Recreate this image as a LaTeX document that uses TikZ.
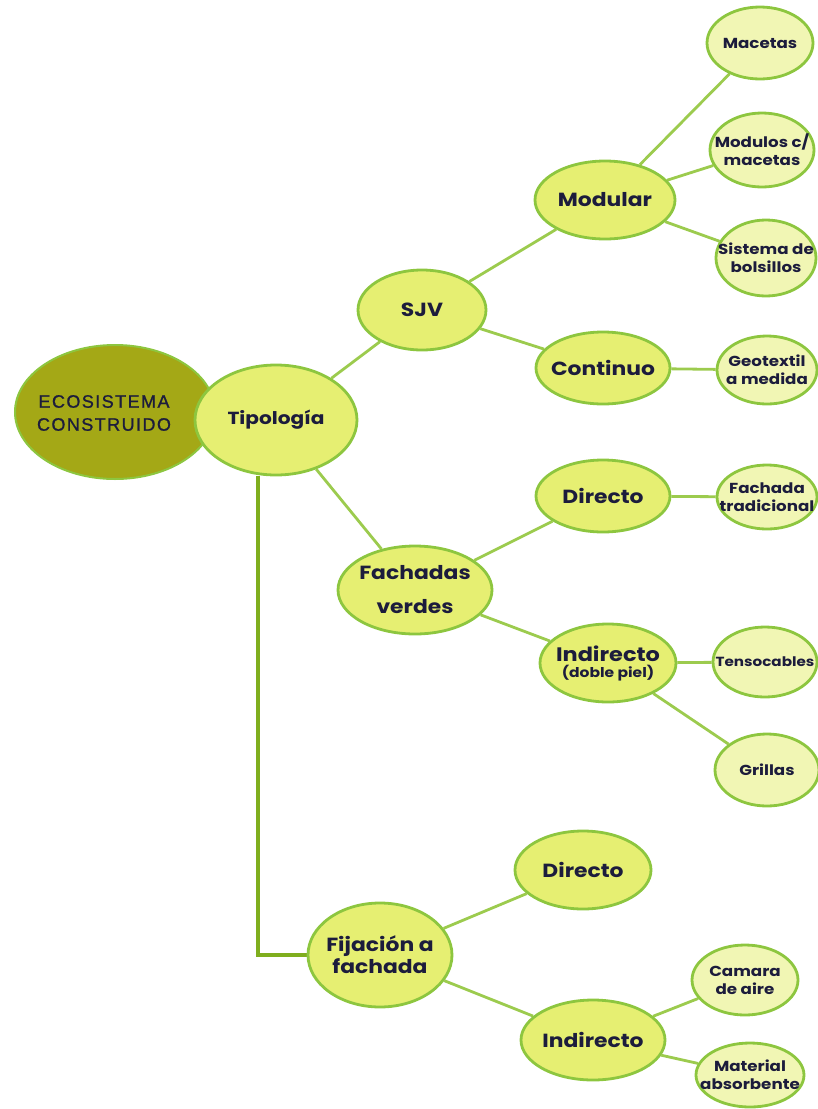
\documentclass[tikz,border=0pt]{standalone}
\usepackage{fontspec}
\setmainfont{Poppins}[FakeStretch=1.15]
\newfontfamily\capsfont{Liberation Sans}[LetterSpace=8,FakeBold=1]
\usetikzlibrary{shapes.geometric, backgrounds}
\definecolor{rimgreen}{HTML}{8DC63F}
\definecolor{linkgreen}{HTML}{9CCB4E}
\definecolor{trunkgreen}{HTML}{7FAE1E}
\definecolor{midfill}{HTML}{E6EF72}
\definecolor{leaffill}{HTML}{F1F6B4}
\definecolor{rootfill}{HTML}{A4A816}
\definecolor{inkblue}{HTML}{1C1C3C}
\tikzset{bubble/.style={ellipse,draw=rimgreen,line width=2.8pt,fill=midfill,text=inkblue,align=center,inner xsep=-20pt,inner ysep=-8pt,font=\bfseries\fontsize{19}{22}\selectfont},
leaf/.style={bubble,fill=leaffill,font=\bfseries\fontsize{14.5}{18}\selectfont},
wh/.style 2 args={minimum width=#1pt,minimum height=#2pt},
link/.style={draw=linkgreen,line width=2.8pt},
trunk/.style={draw=trunkgreen,line width=3.8pt}}

\begin{document}
\begin{tikzpicture}[x=1pt,y=-1pt]
\path[use as bounding box,clip] (0,0) rectangle (818,1109);
% root and typology
\node[bubble,fill=rootfill,line width=2pt,wh={200}{134}] (root) at (115,412) {};
\node[text=inkblue,align=center,font=\capsfont\fontsize{18}{23}\selectfont] (roottxt) at (104,413) {ECOSISTEMA\\CONSTRUIDO};
\node[bubble,wh={162}{110},font=\bfseries\fontsize{17.5}{20}\selectfont] (tipo) at (276,420) {Tipología};
% SJV branch
\node[bubble,wh={128}{80}] (sjv) at (422,310) {SJV};
\node[bubble,wh={140}{78}] (modular) at (605,200) {Modular};
\node[bubble,wh={134}{72}] (continuo) at (603,368) {Continuo};
\node[leaf,wh={106}{72}] (macetas) at (760,43) {Macetas};
\node[leaf,wh={104}{74}] (modulos) at (762,150) {Modulos c/\\macetas};
\node[leaf,wh={100}{76}] (bolsillos) at (766,258) {Sistema de\\bolsillos};
\node[leaf,wh={100}{68}] (geotextil) at (767,370) {Geotextil\\a medida};
% green facades branch
\node[bubble,wh={154}{88}] (fachadas) at (415,590) {Fachadas\\[12pt]verdes};
\node[bubble,wh={134}{72}] (directoA) at (603,496) {Directo};
\node[leaf,wh={100}{64}] (tradicional) at (767,497) {Fachada\\tradicional};
\node[bubble,wh={136}{78},font=\bfseries\fontsize{19.5}{16}\selectfont] (indirectoA) at (608,663) {Indirecto\\{\fontsize{13.5}{14}\selectfont(doble piel)}};
\node[leaf,wh={104}{70},font=\bfseries\fontsize{13.2}{16}\selectfont] (tensocables) at (765,662) {Tensocables};
\node[leaf,wh={104}{72}] (grillas) at (767,770) {Grillas};
% fixing branch
\node[bubble,wh={144}{104}] (fijacion) at (380,955) {Fijación a\\fachada};
\node[bubble,wh={136}{78}] (directoB) at (583,870) {Directo};
\node[bubble,wh={144}{80}] (indirectoB) at (593,1040) {Indirecto};
\node[leaf,wh={106}{70}] (camara) at (745,980) {Camara\\de aire};
\node[leaf,wh={108}{64}] (material) at (750,1075) {Material\\absorbente};
\coordinate (corner) at (258,955);
\begin{scope}[on background layer]
\draw[link] (tipo) -- (sjv);
\draw[link] (tipo) -- (fachadas);
\draw[link] (sjv) -- (modular);
\draw[link] (sjv) -- (continuo);
\draw[link] (modular) -- (macetas);
\draw[link] (modular) -- (modulos);
\draw[link] (modular) -- (bolsillos);
\draw[link] (continuo) -- (geotextil);
\draw[link] (fachadas) -- (directoA);
\draw[link] (fachadas) -- (indirectoA);
\draw[link] (directoA) -- (tradicional);
\draw[link] (indirectoA) -- (tensocables);
\draw[link] (indirectoA) -- (grillas);
\draw[link] (fijacion) -- (directoB);
\draw[link] (fijacion) -- (indirectoB);
\draw[link] (indirectoB) -- (camara);
\draw[link] (indirectoB) -- (material);
\draw[trunk] (tipo.south -| corner) -- (corner) -- (fijacion);
\end{scope}
\end{tikzpicture}
\end{document}
